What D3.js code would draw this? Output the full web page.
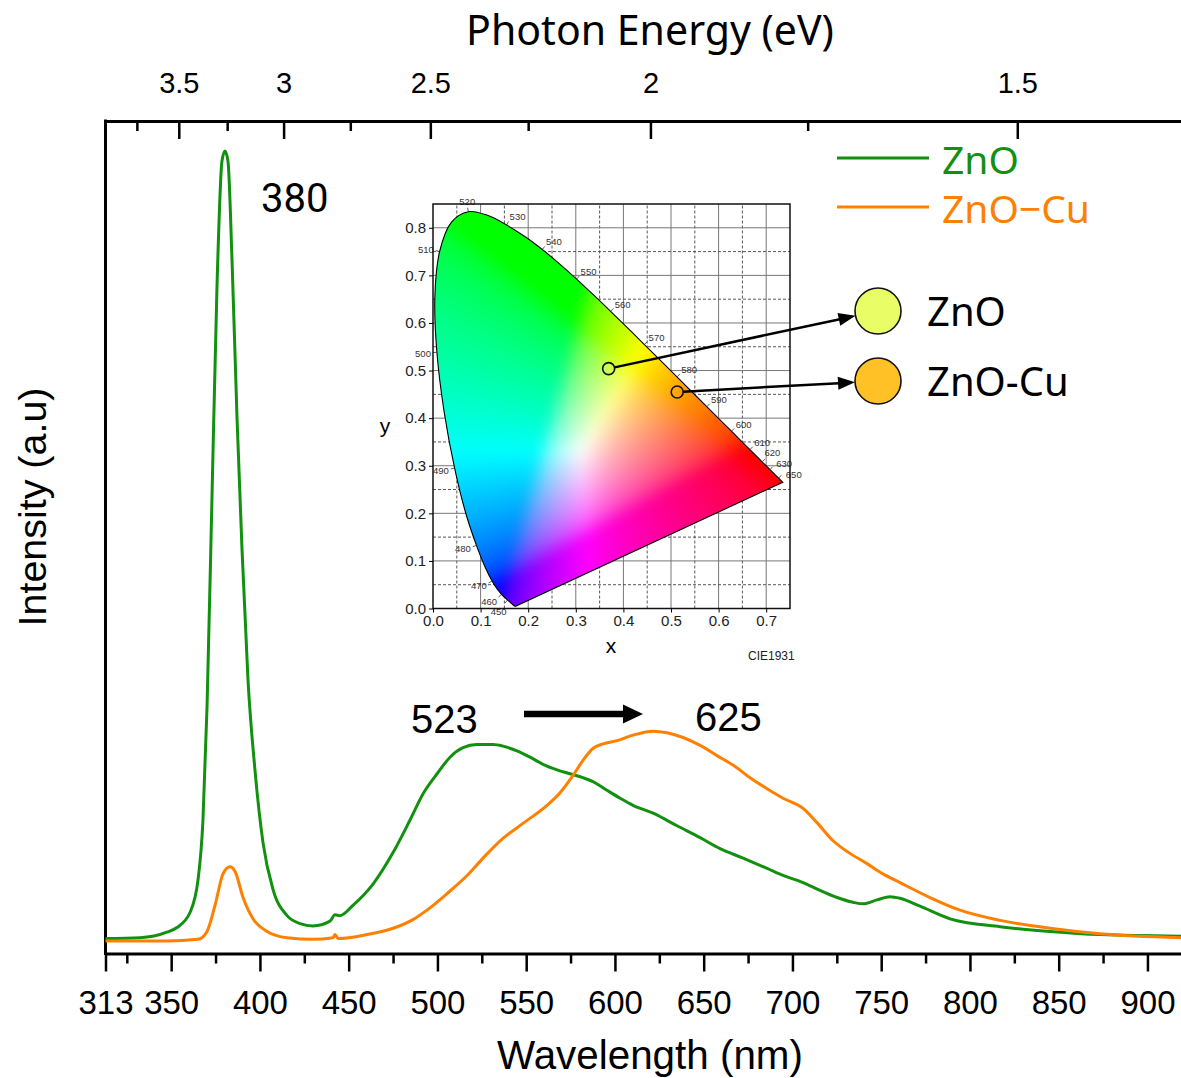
<!DOCTYPE html>
<html><head><meta charset="utf-8">
<script src="https://cdn.jsdelivr.net/npm/d3@7"></script>
<style>body{margin:0;background:#fff}svg{display:block}</style>
</head><body>
<svg id="chart" width="1181" height="1078"></svg>
<script>
// ---------------- DATA ----------------
const wavelengthTicks = [313,350,400,450,500,550,600,650,700,750,800,850,900];
const wavelengthMinorTicks = [325,375,425,475,525,575,625,675,725,775,825,875];
const energyTicks = [3.5,3,2.5,2,1.5];
const energyMinorTicks = [3.75,3.25,2.75,2.25,1.75];

const seriesNames = ["ZnO","ZnO\u2212Cu"];
const seriesColors = ["#12900f","#ff8000"];

const znoWavelength = [313,332.4,347.6,353.3,360.6,365.1,367.9,370.2,373.0,375.8,378.6,380.3,382.0,384.3,387.1,389.9,393.3,397.2,401.7,407.4,415.3,422.6,429.9,439.5,442.3,445.1,452.4,463.7,475.0,484.5,492.0,499.8,507.1,514.4,522.3,531.3,536.9,544.8,552.2,559.5,567.4,574.7,582.0,587.6,595.5,602.9,610.2,621.5,635.0,648.0,659.2,672.2,685.7,694.7,706.0,715.5,725.1,734.1,739.8,747.6,755.0,760.6,771.9,788.8,817.0,845.1,873.3,918.9];
const znoIntensity = [0.000,0.001,0.008,0.014,0.033,0.074,0.150,0.294,0.561,0.826,0.986,0.999,0.986,0.859,0.660,0.494,0.327,0.214,0.122,0.062,0.029,0.019,0.016,0.022,0.030,0.029,0.042,0.069,0.109,0.150,0.184,0.209,0.230,0.242,0.246,0.246,0.244,0.238,0.230,0.221,0.214,0.209,0.204,0.199,0.188,0.178,0.169,0.159,0.143,0.128,0.114,0.102,0.089,0.080,0.071,0.061,0.052,0.046,0.044,0.049,0.053,0.051,0.041,0.025,0.015,0.009,0.005,0.003];

const cuWavelength = [313,347.6,365.1,370.2,374.7,379.2,383.1,386.0,390.5,396.1,404.0,415.3,429.9,441.2,442.3,444.0,460.3,475.0,486.2,494.1,505.4,516.7,525.7,536.9,548.2,561.7,569.1,576.4,582.0,587.6,593.3,601.2,610.2,621.5,629.3,638.4,648.0,657.5,666.5,676.1,685.7,694.7,706.0,713.8,722.9,732.4,742.0,751.0,760.6,777.5,794.4,817.0,845.1,873.3,918.9];
const cuIntensity = [-0.003,-0.003,-0.001,0.009,0.042,0.082,0.091,0.085,0.052,0.025,0.009,0.001,-0.001,0.001,0.005,0.000,0.005,0.013,0.024,0.036,0.057,0.080,0.102,0.127,0.146,0.169,0.185,0.207,0.226,0.241,0.247,0.251,0.258,0.263,0.261,0.255,0.245,0.232,0.220,0.204,0.190,0.178,0.165,0.147,0.124,0.108,0.095,0.082,0.071,0.052,0.036,0.023,0.013,0.006,0.001];

const peakLabels = ["380","523","625"];

// CIE 1931 spectral locus (2 deg observer)
const cieWavelength = [380,385,390,395,400,405,410,415,420,425,430,435,440,445,450,455,460,465,470,475,480,485,490,495,500,505,510,515,520,525,530,535,540,545,550,555,560,565,570,575,580,585,590,595,600,605,610,615,620,625,630,635,640,645,650,655,660,665,670,680,690,700];
const cieX = [0.1741,0.1740,0.1738,0.1736,0.1733,0.1730,0.1726,0.1721,0.1714,0.1703,0.1689,0.1669,0.1644,0.1611,0.1566,0.1510,0.1440,0.1355,0.1241,0.1096,0.0913,0.0687,0.0454,0.0235,0.0082,0.0039,0.0139,0.0389,0.0743,0.1142,0.1547,0.1929,0.2296,0.2658,0.3016,0.3373,0.3731,0.4087,0.4441,0.4788,0.5125,0.5448,0.5752,0.6029,0.6270,0.6482,0.6658,0.6801,0.6915,0.7006,0.7079,0.7140,0.7190,0.7230,0.7260,0.7283,0.7300,0.7311,0.7320,0.7334,0.7344,0.7347];
const cieY = [0.0050,0.0050,0.0049,0.0049,0.0048,0.0048,0.0048,0.0048,0.0051,0.0058,0.0069,0.0086,0.0109,0.0138,0.0177,0.0227,0.0297,0.0399,0.0578,0.0868,0.1327,0.2007,0.2950,0.4127,0.5384,0.6548,0.7502,0.8120,0.8338,0.8262,0.8059,0.7816,0.7543,0.7243,0.6923,0.6589,0.6245,0.5896,0.5547,0.5202,0.4866,0.4544,0.4242,0.3965,0.3725,0.3514,0.3340,0.3197,0.3083,0.2993,0.2920,0.2859,0.2809,0.2770,0.2740,0.2717,0.2700,0.2689,0.2680,0.2666,0.2656,0.2653];
const cieLabelWavelengths = [450,460,470,480,490,500,510,520,530,540,550,560,570,580,590,600,610,620,630,650];
const cieXTicks = [0,0.1,0.2,0.3,0.4,0.5,0.6,0.7];
const cieYTicks = [0,0.1,0.2,0.3,0.4,0.5,0.6,0.7,0.8];

const sampleNames = ["ZnO","ZnO-Cu"];
const sampleCieX = [0.369,0.513];
const sampleCieY = [0.504,0.455];
const sampleFill = ["#e8fd66","#ffc125"];

// ---------------- LAYOUT ----------------
const svg = d3.select("#chart");
const plotLeft = 105.5, plotRight = 1181, plotTop = 121, plotBottom = 953.5;

const x = d3.scaleLinear().domain([313, 918.9]).range([plotLeft, plotRight]);
const y = d3.scaleLinear().domain([-0.019, 1.037]).range([plotBottom, plotTop]);

function fit(t, w){
  const L = t.node().getComputedTextLength();
  const fs = parseFloat(t.attr("font-size"));
  if (L > 0) t.attr("font-size", fs * w / L);
}

// bottom axis
const gx = svg.append("g").attr("transform", `translate(0,${plotBottom})`)
  .call(d3.axisBottom(x).tickValues(wavelengthTicks).tickSize(18).tickPadding(19).tickSizeOuter(0).tickFormat(d3.format("d")));
gx.attr("font-family","'Liberation Sans', Arial, sans-serif").attr("font-size",33);
gx.selectAll(".tick line").attr("stroke-width",2.5);
gx.select(".domain").attr("stroke-width",3);
gx.selectAll("text").attr("fill","#000");
const gxm = svg.append("g").attr("transform", `translate(0,${plotBottom})`)
  .call(d3.axisBottom(x).tickValues(wavelengthMinorTicks).tickSize(10).tickSizeOuter(0).tickFormat(""));
gxm.select(".domain").remove();
gxm.selectAll(".tick line").attr("stroke-width",2.5);

// top axis (photon energy, lambda = 1240/E)
const gt = svg.append("g").attr("transform", `translate(0,${plotTop})`)
  .call(d3.axisTop(x).tickValues(energyTicks.map(e => 1240/e)).tickSizeInner(-18).tickSizeOuter(0).tickPadding(28)
    .tickFormat((d,i) => String(energyTicks[i])));
gt.attr("font-family","'Liberation Sans', Arial, sans-serif").attr("font-size",29);
gt.selectAll(".tick line").attr("stroke-width",2.5);
gt.select(".domain").attr("stroke-width",3);
const gtm = svg.append("g").attr("transform", `translate(0,${plotTop})`)
  .call(d3.axisTop(x).tickValues(energyMinorTicks.map(e => 1240/e)).tickSizeInner(-10).tickSizeOuter(0).tickFormat(""));
gtm.select(".domain").remove();
gtm.selectAll(".tick line").attr("stroke-width",2.5);

// left frame line
svg.append("line").attr("x1",plotLeft).attr("x2",plotLeft).attr("y1",plotTop-1.5).attr("y2",plotBottom+1.5)
  .attr("stroke","#000").attr("stroke-width",3);

// titles
const tTop = svg.append("text").attr("x",650).attr("y",45).attr("text-anchor","middle")
  .attr("font-family","'Noto Sans',sans-serif").attr("font-size",38).text("Photon Energy (eV)");
fit(tTop, 368);
const tBot = svg.append("text").attr("x",650).attr("y",1069).attr("text-anchor","middle")
  .attr("font-family","'Liberation Sans',Arial,sans-serif").attr("font-size",40).text("Wavelength (nm)");
fit(tBot, 306);
const tY = svg.append("text").attr("transform","translate(46,507) rotate(-90)").attr("text-anchor","middle")
  .attr("font-family","'Liberation Sans',Arial,sans-serif").attr("font-size",38).text("Intensity (a.u)");
fit(tY, 239);

// curves
const line = d3.line().x(d => x(d[0])).y(d => y(d[1])).curve(d3.curveMonotoneX);
const series = [
  d3.zip(znoWavelength, znoIntensity),
  d3.zip(cuWavelength, cuIntensity)
];
svg.append("g").selectAll("path").data(series).join("path")
  .attr("d", line).attr("fill","none")
  .attr("stroke",(d,i)=>seriesColors[i]).attr("stroke-width",3).attr("stroke-linejoin","round");

// legend
const leg = svg.append("g");
seriesNames.forEach((n,i) => {
  const yy = 158 + i*49;
  leg.append("line").attr("x1",837).attr("x2",929).attr("y1",yy).attr("y2",yy)
    .attr("stroke",seriesColors[i]).attr("stroke-width",3);
  leg.append("text").attr("x",942).attr("y",yy+16).attr("fill",seriesColors[i])
    .attr("font-family","'Noto Sans',sans-serif").attr("font-size",39).text(n);
});

// peak labels
svg.append("text").attr("x",261).attr("y",212).attr("font-family","Roboto,'Liberation Sans',sans-serif")
  .attr("font-size",40).text(peakLabels[0]);
svg.append("text").attr("x",411).attr("y",733).attr("font-family","'Liberation Sans',Arial,sans-serif")
  .attr("font-size",40).text(peakLabels[1]);
svg.append("text").attr("x",695).attr("y",731).attr("font-family","'Liberation Sans',Arial,sans-serif")
  .attr("font-size",40).text(peakLabels[2]);

function arrow(g, x1, y1, x2, y2, w, hl, hw){
  const a = Math.atan2(y2-y1, x2-x1), c = Math.cos(a), s = Math.sin(a);
  const bx = x2 - hl*c, by = y2 - hl*s;
  g.append("line").attr("x1",x1).attr("y1",y1).attr("x2",bx+1*c).attr("y2",by+1*s)
    .attr("stroke","#000").attr("stroke-width",w);
  g.append("path").attr("d",`M${x2},${y2}L${bx - hw*s},${by + hw*c}L${bx + hw*s},${by - hw*c}Z`).attr("fill","#000");
}
arrow(svg, 524, 714, 643, 714, 6.5, 20, 9.5);

// ---------------- CIE INSET ----------------
const ix = d3.scaleLinear().domain([0,0.75]).range([433,790]);
const iy = d3.scaleLinear().domain([0,0.85]).range([608.5,204]);
const inset = svg.append("g");
inset.append("rect").attr("x",ix(0)).attr("y",iy(0.85)).attr("width",ix(0.75)-ix(0)).attr("height",iy(0)-iy(0.85)).attr("fill","#fff");

// grid
const gridG = inset.append("g");
d3.range(1,8).forEach(k => { const v=k/10;
  gridG.append("line").attr("x1",ix(v)).attr("x2",ix(v)).attr("y1",iy(0)).attr("y2",iy(0.85)).attr("stroke","#777").attr("stroke-width",1);
});
d3.range(0,7).forEach(k => { const v=k/10+0.05;
  gridG.append("line").attr("x1",ix(v)).attr("x2",ix(v)).attr("y1",iy(0)).attr("y2",iy(0.85)).attr("stroke","#444").attr("stroke-width",0.9).attr("stroke-dasharray","3,2");
});
d3.range(1,9).forEach(k => { const v=k/10;
  gridG.append("line").attr("y1",iy(v)).attr("y2",iy(v)).attr("x1",ix(0)).attr("x2",ix(0.75)).attr("stroke","#777").attr("stroke-width",1);
});
d3.range(0,8).forEach(k => { const v=k/10+0.05;
  gridG.append("line").attr("y1",iy(v)).attr("y2",iy(v)).attr("x1",ix(0)).attr("x2",ix(0.75)).attr("stroke","#444").attr("stroke-width",0.9).attr("stroke-dasharray","3,2");
});

// gamut fill via canvas
const locus = d3.zip(cieX, cieY);
const locusCurve = d3.curveCatmullRom.alpha(0.5);
(function(){
  const x0 = ix(0), y0 = iy(0.85);
  const W = Math.round(ix(0.75)-x0), H = Math.round(iy(0)-y0);
  const P = 20;
  const off = document.createElement("canvas"); off.width = W+2*P; off.height = H+2*P;
  const octx = off.getContext("2d");
  const img = octx.createImageData(W+2*P,H+2*P);
  const gam = c => c <= 0.0031308 ? 12.92*c : 1.055*Math.pow(c,1/2.4)-0.055;
  for (let j=0;j<H+2*P;j++) for (let i=0;i<W+2*P;i++){
    let cx = ix.invert(x0+i-P+0.5), cy = iy.invert(y0+j-P+0.5);
    cy = Math.max(cy, 0.004); cx = Math.max(cx, 0.001);
    const X = cx/cy, Y = 1, Z = Math.max(1-cx-cy,0)/cy;
    let r = 3.2406*X - 1.5372*Y - 0.4986*Z;
    let g = -0.9689*X + 1.8758*Y + 0.0415*Z;
    let b = 0.0557*X - 0.2040*Y + 1.0570*Z;
    r = Math.max(r,0); g = Math.max(g,0); b = Math.max(b,0);
    const m = Math.max(r,g,b) || 1;
    const k = 4*(j*(W+2*P)+i);
    img.data[k] = Math.round(255*gam(r/m));
    img.data[k+1] = Math.round(255*gam(g/m));
    img.data[k+2] = Math.round(255*gam(b/m));
    img.data[k+3] = 255;
  }
  octx.putImageData(img,0,0);
  const cv = document.createElement("canvas"); cv.width = W; cv.height = H;
  const ctx = cv.getContext("2d");
  ctx.beginPath();
  d3.line().x(d=>ix(d[0])-x0).y(d=>iy(d[1])-y0).curve(locusCurve).context(ctx)(locus);
  ctx.closePath(); ctx.clip();
  ctx.filter = "blur(7px)";
  ctx.drawImage(off,-P,-P);
  inset.append("image").attr("x",x0).attr("y",y0).attr("width",W).attr("height",H)
    .attr("href", cv.toDataURL());
})();

// locus outline
inset.append("path").attr("d", d3.line().x(d=>ix(d[0])).y(d=>iy(d[1])).curve(locusCurve)(locus) + "Z")
  .attr("fill","none").attr("stroke","#000").attr("stroke-width",1.1);

// wavelength ticks/labels on locus
const wp = cieWavelength.map((w,i)=>[ix(cieX[i]), iy(cieY[i])]);
const white = [ix(0.3127), iy(0.329)];
function locusAt(w){
  const i = d3.bisectLeft(cieWavelength, w);
  if (cieWavelength[i] === w) return wp[i];
  const t = (w - cieWavelength[i-1])/(cieWavelength[i]-cieWavelength[i-1]);
  return [wp[i-1][0] + t*(wp[i][0]-wp[i-1][0]), wp[i-1][1] + t*(wp[i][1]-wp[i-1][1])];
}
const labelNudge = {450:[3,4], 620:[-2,-2], 630:[2,1], 650:[3,3]};
const labG = inset.append("g").attr("font-family","'Liberation Sans',Arial,sans-serif").attr("font-size",9.5).attr("fill","#333");
cieLabelWavelengths.forEach(w => {
  const p = locusAt(w), a = locusAt(w-4), b = locusAt(Math.min(w+4,700));
  let tx = b[0]-a[0], ty = b[1]-a[1]; const L = Math.hypot(tx,ty) || 1; tx/=L; ty/=L;
  let nx = ty, ny = -tx;
  if ((p[0]-white[0])*nx + (p[1]-white[1])*ny < 0){ nx=-nx; ny=-ny; }
  labG.append("line").attr("x1",p[0]).attr("y1",p[1]).attr("x2",p[0]+4*nx).attr("y2",p[1]+4*ny)
    .attr("stroke","#333").attr("stroke-width",0.8);
  const nd = labelNudge[w] || [0,0];
  const lx = p[0]+6*nx + nd[0], ly = p[1]+6*ny + nd[1];
  const anchor = nx > 0.35 ? "start" : (nx < -0.35 ? "end" : "middle");
  labG.append("text").attr("x",lx).attr("y",ly + 3.5 + ny*4).attr("text-anchor",anchor).text(w);
});

// inset frame & axes
inset.append("rect").attr("x",ix(0)).attr("y",iy(0.85)).attr("width",ix(0.75)-ix(0)).attr("height",iy(0)-iy(0.85))
  .attr("fill","none").attr("stroke","#111").attr("stroke-width",1.5);
const iax = inset.append("g").attr("transform",`translate(0,${iy(0)})`)
  .call(d3.axisBottom(ix).tickValues(cieXTicks).tickSize(4).tickPadding(3).tickSizeOuter(0).tickFormat(d3.format(".1f")));
iax.select(".domain").remove();
iax.attr("font-family","'Liberation Sans',Arial,sans-serif").attr("font-size",15);
iax.selectAll("text").attr("fill","#222");
const iay = inset.append("g").attr("transform",`translate(${ix(0)},0)`)
  .call(d3.axisLeft(iy).tickValues(cieYTicks).tickSize(4).tickPadding(3).tickSizeOuter(0).tickFormat(d3.format(".1f")));
iay.select(".domain").remove();
iay.attr("font-family","'Liberation Sans',Arial,sans-serif").attr("font-size",15);
iay.selectAll("text").attr("fill","#222");
inset.append("text").attr("x",611).attr("y",653).attr("text-anchor","middle")
  .attr("font-family","'Liberation Sans',Arial,sans-serif").attr("font-size",21).text("x");
inset.append("text").attr("x",385).attr("y",433).attr("text-anchor","middle")
  .attr("font-family","'Liberation Sans',Arial,sans-serif").attr("font-size",21).text("y");
inset.append("text").attr("x",748).attr("y",660)
  .attr("font-family","'Liberation Sans',Arial,sans-serif").attr("font-size",12).attr("fill","#222").text("CIE1931");

// sample points and arrows to big swatches
const bigCx = 878, bigCy = [311, 381], bigR = 23, smallR = 6;
sampleNames.forEach((n,i) => {
  const px = ix(sampleCieX[i]), py = iy(sampleCieY[i]);
  const tx = bigCx, ty = bigCy[i];
  const a = Math.atan2(ty-py, tx-px);
  arrow(svg, px + smallR*Math.cos(a), py + smallR*Math.sin(a), tx - bigR*Math.cos(a), ty - bigR*Math.sin(a), 2.5, 17, 6.5);
  svg.append("circle").attr("cx",px).attr("cy",py).attr("r",smallR).attr("fill","none").attr("stroke","#111").attr("stroke-width",1.6);
  svg.append("circle").attr("cx",tx).attr("cy",ty).attr("r",bigR).attr("fill",sampleFill[i]).attr("stroke","#111").attr("stroke-width",1.6);
  svg.append("text").attr("x",927).attr("y",ty+15).attr("font-family","'Noto Sans',sans-serif").attr("font-size",40).text(n);
});
</script>
</body></html>
